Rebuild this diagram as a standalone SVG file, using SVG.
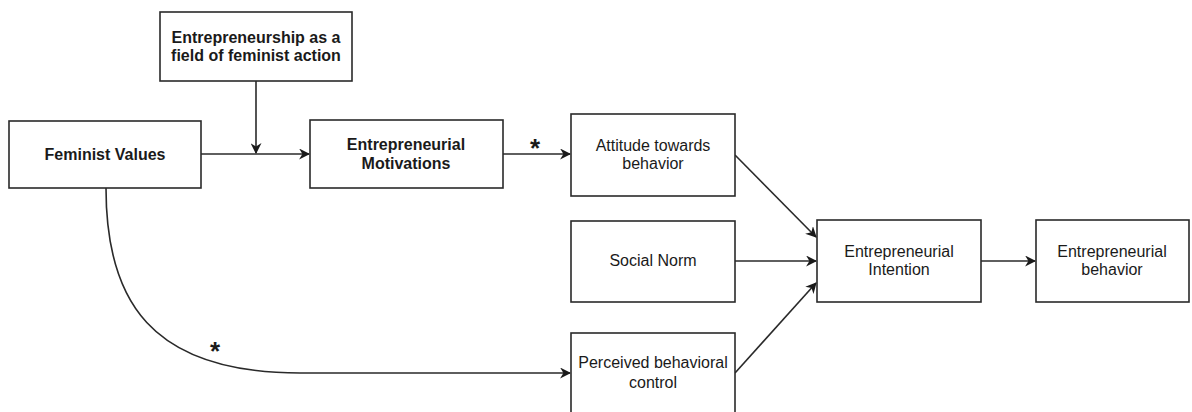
<svg xmlns="http://www.w3.org/2000/svg" width="1192" height="412" viewBox="0 0 1192 412">
  <style>
    .box { fill: #ffffff; stroke: #2a2a2a; stroke-width: 1.6; }
    .edge { fill: none; stroke: #2a2a2a; stroke-width: 1.6; }
    .lbl { font-family: "Liberation Sans", Arial, sans-serif; font-size: 16px; fill: #1a1a1a; text-anchor: middle; }
    .b { font-weight: bold; }
    .star { font-family: "Liberation Sans", Arial, sans-serif; font-size: 26px; font-weight: bold; fill: #1a1a1a; text-anchor: middle; }
  </style>
  <defs>
    <marker id="arrow" viewBox="0 0 10 10" refX="9" refY="5" markerWidth="11" markerHeight="11" markerUnits="userSpaceOnUse" orient="auto">
      <path d="M0,0 L10,5 L0,10 L3,5 Z" fill="#1a1a1a"/>
    </marker>
  </defs>
  <rect width="1192" height="412" fill="#ffffff"/>

  <g id="connectors">
    <path class="edge" d="M256,81 V153" marker-end="url(#arrow)"/>
    <path class="edge" d="M201,154 H309" marker-end="url(#arrow)"/>
    <path class="edge" d="M503,154 H570" marker-end="url(#arrow)"/>
    <path class="edge" d="M106,188 C106,300 150,373 300,373 L570,373" marker-end="url(#arrow)"/>
    <path class="edge" d="M735,155 L816,237" marker-end="url(#arrow)"/>
    <path class="edge" d="M735,261 H816" marker-end="url(#arrow)"/>
    <path class="edge" d="M735,373 L816,283" marker-end="url(#arrow)"/>
    <path class="edge" d="M981,261 H1035" marker-end="url(#arrow)"/>
    <text class="star" x="535" y="157">*</text>
    <text class="star" x="215" y="360">*</text>
  </g>

  <g id="field-of-action">
    <rect class="box" x="160" y="12" width="192" height="69"/>
    <text class="lbl b" x="256" y="43">Entrepreneurship as a</text>
    <text class="lbl b" x="256" y="61">field of feminist action</text>
  </g>

  <g id="feminist-values">
    <rect class="box" x="9" y="121" width="192" height="67"/>
    <text class="lbl b" x="105" y="160">Feminist Values</text>
  </g>

  <g id="motivations">
    <rect class="box" x="310" y="120" width="193" height="68"/>
    <text class="lbl b" x="406" y="150">Entrepreneurial</text>
    <text class="lbl b" x="406" y="169">Motivations</text>
  </g>

  <g id="attitude">
    <rect class="box" x="571" y="114" width="164" height="82"/>
    <text class="lbl" x="653" y="151">Attitude towards</text>
    <text class="lbl" x="653" y="169">behavior</text>
  </g>

  <g id="social-norm">
    <rect class="box" x="571" y="221" width="164" height="81"/>
    <text class="lbl" x="653" y="266">Social Norm</text>
  </g>

  <g id="perceived-control">
    <rect class="box" x="571" y="333" width="164" height="82"/>
    <text class="lbl" x="653" y="368">Perceived behavioral</text>
    <text class="lbl" x="653" y="388">control</text>
  </g>

  <g id="intention">
    <rect class="box" x="817" y="220" width="164" height="82"/>
    <text class="lbl" x="899" y="257">Entrepreneurial</text>
    <text class="lbl" x="899" y="275">Intention</text>
  </g>

  <g id="behavior">
    <rect class="box" x="1036" y="220" width="153" height="82"/>
    <text class="lbl" x="1112" y="257">Entrepreneurial</text>
    <text class="lbl" x="1112" y="275">behavior</text>
  </g>
</svg>
